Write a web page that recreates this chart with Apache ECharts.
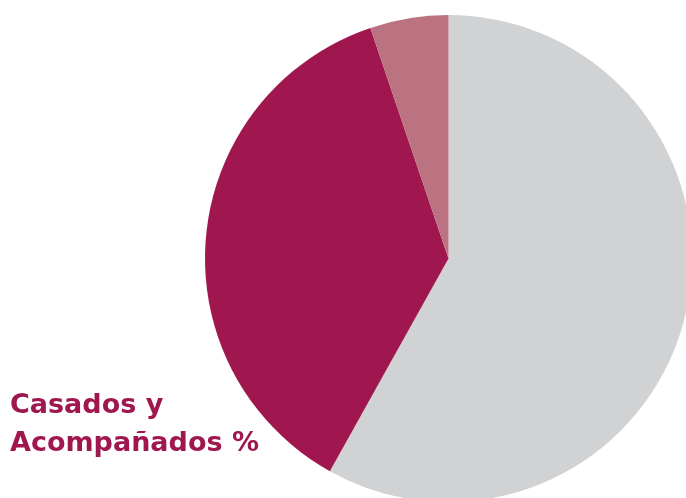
<!DOCTYPE html>
<html>
<head>
<meta charset="utf-8">
<script src="https://cdn.jsdelivr.net/npm/echarts@6/dist/echarts.min.js"></script>
<style>
    html, body { margin: 0; padding: 0; background: #fff; }
    #main { width: 686px; height: 498px; }
</style>
</head>
<body>
<div id="main"></div>
<script>
    // datos del gráfico
    var categorias = ['Otros', 'Casados y Acompañados', 'Sin dato'];
    var valores = [58.1, 36.7, 5.2];
    var colores = ['#d1d2d4', '#a0174f', '#bb7281'];

    var myChart = echarts.init(document.getElementById('main'));

    var datos = [];
    for (var i = 0; i < categorias.length; i++) {
        datos.push({
            name: categorias[i],
            value: valores[i],
            itemStyle: {color: colores[i]}
        });
    }

    var option = {
        backgroundColor: '#fff',
        animation: false,
        title: {
            text: 'Casados y\nAcompañados %',
            left: 5,
            top: 382,
            textStyle: {
                fontFamily: 'DejaVu Sans',
                fontWeight: 'bold',
                fontSize: 27,
                lineHeight: 38,
                color: '#a0174f'
            }
        },
        series: [{
            type: 'pie',
            center: [448.5, 258.5],
            radius: 243.5,
            startAngle: 90,
            clockwise: true,
            label: {show: false},
            labelLine: {show: false},
            emphasis: {disabled: true},
            itemStyle: {borderWidth: 0},
            data: datos
        }]
    };
    myChart.setOption(option);
</script>
</body>
</html>
